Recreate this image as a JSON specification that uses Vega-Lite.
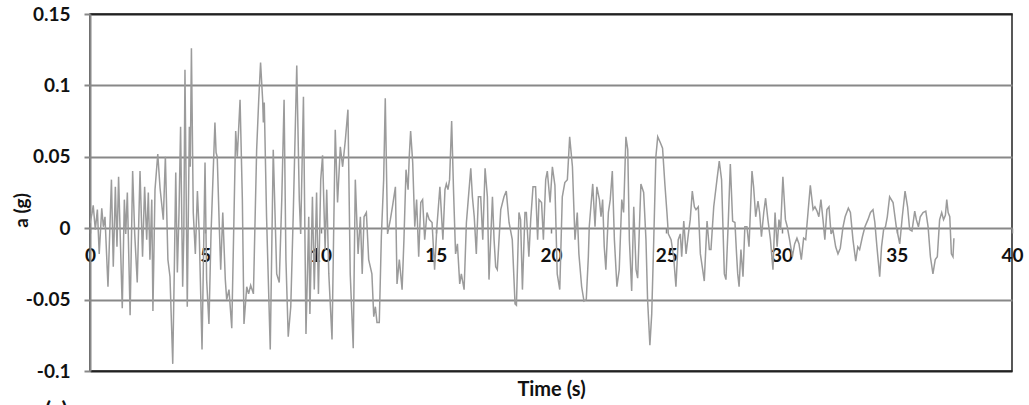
{
  "$schema": "https://vega.github.io/schema/vega-lite/v6.json",
  "width": 922,
  "height": 357,
  "autosize": {"type": "none"},
  "padding": {"left": 90, "top": 14, "right": 17, "bottom": 34},
  "background": "white",
  "config": {"view": {"stroke": "#222", "strokeWidth": 1.5}, "font": "Lato"},
  "title": {"text": "(a)", "orient": "bottom", "anchor": "start", "frame": "group", "fontSize": 22, "font": "Lato", "fontWeight": "bold", "color": "#111", "dx": -45, "offset": 2},
  "data": {"values": [
    {"t":0,"a":0.0035},{"t":0.09,"a":0.0105},{"t":0.14,"a":0.016},{"t":0.23,"a":-0.001},{"t":0.32,"a":0.013},{"t":0.40,"a":-0.018},{"t":0.51,"a":0.014},{"t":0.58,"a":0.001},{"t":0.65,"a":0.008},{"t":0.78,"a":-0.041},{"t":0.93,"a":0.034},{"t":1.01,"a":-0.027},{"t":1.10,"a":0.029},{"t":1.17,"a":-0.013},{"t":1.24,"a":0.036},{"t":1.40,"a":-0.056},{"t":1.49,"a":0.02},{"t":1.55,"a":-0.004},{"t":1.62,"a":0.025},{"t":1.74,"a":-0.061},{"t":1.85,"a":0.040},{"t":1.94,"a":-0.004},{"t":2.05,"a":-0.038},{"t":2.17,"a":0.040},{"t":2.28,"a":-0.02},{"t":2.37,"a":0.029},{"t":2.46,"a":-0.008},{"t":2.53,"a":0.025},{"t":2.60,"a":-0.022},{"t":2.68,"a":0.02},{"t":2.73,"a":-0.058},{"t":2.82,"a":0.027},{"t":2.94,"a":0.052},{"t":3.04,"a":0.028},{"t":3.18,"a":0.006},{"t":3.27,"a":0.050},{"t":3.38,"a":-0.022},{"t":3.47,"a":-0.034},{"t":3.59,"a":-0.095},{"t":3.66,"a":-0.027},{"t":3.72,"a":0.039},{"t":3.79,"a":-0.031},{"t":3.86,"a":0.01},{"t":3.93,"a":0.071},{"t":4.02,"a":-0.041},{"t":4.07,"a":-0.004},{"t":4.12,"a":0.111},{"t":4.22,"a":-0.055},{"t":4.31,"a":0.071},{"t":4.35,"a":0.043},{"t":4.40,"a":0.126},{"t":4.48,"a":0.011},{"t":4.57,"a":-0.018},{"t":4.66,"a":0.026},{"t":4.74,"a":-0.004},{"t":4.86,"a":-0.085},{"t":4.99,"a":0.046},{"t":5.06,"a":-0.036},{"t":5.16,"a":-0.067},{"t":5.25,"a":-0.004},{"t":5.42,"a":0.074},{"t":5.47,"a":0.053},{"t":5.52,"a":0.050},{"t":5.61,"a":0.001},{"t":5.67,"a":-0.029},{"t":5.76,"a":0.011},{"t":5.87,"a":-0.036},{"t":5.93,"a":-0.050},{"t":6.03,"a":-0.043},{"t":6.15,"a":-0.070},{"t":6.25,"a":0.011},{"t":6.32,"a":0.068},{"t":6.39,"a":0.050},{"t":6.51,"a":0.090},{"t":6.61,"a":0.020},{"t":6.68,"a":-0.067},{"t":6.80,"a":-0.041},{"t":6.88,"a":-0.046},{"t":6.97,"a":-0.040},{"t":7.09,"a":-0.046},{"t":7.23,"a":0.055},{"t":7.32,"a":0.090},{"t":7.40,"a":0.116},{"t":7.49,"a":0.090},{"t":7.52,"a":0.074},{"t":7.56,"a":0.088},{"t":7.66,"a":0.008},{"t":7.82,"a":-0.085},{"t":7.95,"a":0.055},{"t":8.10,"a":-0.032},{"t":8.21,"a":-0.038},{"t":8.32,"a":0.02},{"t":8.42,"a":0.090},{"t":8.50,"a":-0.022},{"t":8.60,"a":-0.076},{"t":8.71,"a":-0.055},{"t":8.82,"a":0.011},{"t":8.97,"a":0.114},{"t":9.08,"a":0.02},{"t":9.14,"a":-0.004},{"t":9.26,"a":0.092},{"t":9.37,"a":-0.074},{"t":9.49,"a":0.008},{"t":9.54,"a":-0.06},{"t":9.65,"a":0.022},{"t":9.73,"a":-0.043},{"t":9.83,"a":0.025},{"t":9.91,"a":-0.046},{"t":10.01,"a":0.034},{"t":10.09,"a":0.051},{"t":10.20,"a":-0.015},{"t":10.27,"a":0.027},{"t":10.36,"a":-0.032},{"t":10.50,"a":-0.078},{"t":10.64,"a":0.069},{"t":10.74,"a":0.018},{"t":10.86,"a":0.057},{"t":10.96,"a":0.043},{"t":11.08,"a":0.062},{"t":11.19,"a":0.083},{"t":11.29,"a":-0.032},{"t":11.42,"a":-0.084},{"t":11.51,"a":0.034},{"t":11.63,"a":-0.018},{"t":11.73,"a":0.008},{"t":11.81,"a":-0.032},{"t":11.89,"a":0.008},{"t":11.99,"a":0.011},{"t":12.09,"a":-0.022},{"t":12.23,"a":-0.032},{"t":12.31,"a":-0.062},{"t":12.38,"a":-0.055},{"t":12.45,"a":-0.066},{"t":12.55,"a":-0.066},{"t":12.64,"a":-0.006},{"t":12.74,"a":0.034},{"t":12.81,"a":0.091},{"t":12.91,"a":-0.004},{"t":13.03,"a":0.006},{"t":13.12,"a":0.015},{"t":13.25,"a":0.029},{"t":13.32,"a":-0.039},{"t":13.42,"a":-0.022},{"t":13.54,"a":-0.043},{"t":13.62,"a":-0.008},{"t":13.71,"a":0.041},{"t":13.80,"a":0.027},{"t":13.85,"a":0.050},{"t":13.91,"a":0.068},{"t":14.00,"a":0.046},{"t":14.09,"a":0.001},{"t":14.17,"a":0.020},{"t":14.26,"a":-0.020},{"t":14.35,"a":0.018},{"t":14.43,"a":0.020},{"t":14.52,"a":-0.008},{"t":14.62,"a":0.011},{"t":14.72,"a":0.006},{"t":14.84,"a":0.004},{"t":14.95,"a":-0.029},{"t":15.05,"a":0.001},{"t":15.18,"a":0.029},{"t":15.31,"a":-0.008},{"t":15.40,"a":0.027},{"t":15.46,"a":0.031},{"t":15.53,"a":0.027},{"t":15.60,"a":0.034},{"t":15.69,"a":0.075},{"t":15.77,"a":0.027},{"t":15.86,"a":-0.018},{"t":15.94,"a":-0.011},{"t":16.04,"a":-0.039},{"t":16.11,"a":-0.032},{"t":16.23,"a":-0.043},{"t":16.33,"a":0.004},{"t":16.41,"a":0.020},{"t":16.52,"a":0.042},{"t":16.59,"a":0.022},{"t":16.67,"a":0.008},{"t":16.76,"a":-0.018},{"t":16.85,"a":0.022},{"t":16.95,"a":0.022},{"t":17.04,"a":-0.008},{"t":17.14,"a":0.042},{"t":17.24,"a":0.022},{"t":17.31,"a":-0.036},{"t":17.46,"a":0.022},{"t":17.53,"a":-0.008},{"t":17.60,"a":-0.027},{"t":17.67,"a":-0.029},{"t":17.82,"a":0.013},{"t":17.96,"a":0.022},{"t":18.06,"a":0.026},{"t":18.18,"a":0.004},{"t":18.32,"a":-0.008},{"t":18.44,"a":-0.053},{"t":18.50,"a":-0.054},{"t":18.61,"a":0.011},{"t":18.68,"a":0.006},{"t":18.76,"a":-0.043},{"t":18.87,"a":0.011},{"t":18.93,"a":0.011},{"t":19.04,"a":-0.020},{"t":19.12,"a":0.006},{"t":19.22,"a":0.029},{"t":19.33,"a":0.029},{"t":19.42,"a":-0.008},{"t":19.48,"a":0.020},{"t":19.59,"a":0.018},{"t":19.67,"a":-0.008},{"t":19.77,"a":0.034},{"t":19.84,"a":0.040},{"t":19.96,"a":0.018},{"t":20.06,"a":0.043},{"t":20.17,"a":0.030},{"t":20.27,"a":-0.032},{"t":20.38,"a":-0.043},{"t":20.49,"a":0.022},{"t":20.60,"a":0.032},{"t":20.71,"a":0.034},{"t":20.81,"a":0.064},{"t":20.93,"a":0.043},{"t":21.04,"a":-0.008},{"t":21.14,"a":0.011},{"t":21.21,"a":-0.018},{"t":21.33,"a":-0.041},{"t":21.43,"a":-0.051},{"t":21.53,"a":-0.050},{"t":21.62,"a":-0.020},{"t":21.66,"a":0.001},{"t":21.81,"a":0.031},{"t":21.91,"a":0.001},{"t":21.99,"a":0.029},{"t":22.10,"a":0.020},{"t":22.17,"a":0.008},{"t":22.24,"a":0.020},{"t":22.31,"a":-0.013},{"t":22.38,"a":-0.029},{"t":22.49,"a":0.011},{"t":22.57,"a":0.020},{"t":22.66,"a":0.040},{"t":22.75,"a":-0.008},{"t":22.86,"a":-0.041},{"t":22.96,"a":-0.029},{"t":23.07,"a":0.020},{"t":23.15,"a":0.011},{"t":23.25,"a":0.064},{"t":23.33,"a":0.055},{"t":23.40,"a":-0.008},{"t":23.50,"a":-0.044},{"t":23.59,"a":0.015},{"t":23.69,"a":-0.029},{"t":23.76,"a":-0.035},{"t":23.90,"a":0.031},{"t":24.02,"a":0.025},{"t":24.12,"a":-0.008},{"t":24.19,"a":-0.050},{"t":24.29,"a":-0.082},{"t":24.37,"a":-0.060},{"t":24.45,"a":-0.013},{"t":24.55,"a":0.050},{"t":24.63,"a":0.064},{"t":24.74,"a":0.060},{"t":24.84,"a":0.056},{"t":24.94,"a":0.031},{"t":25.03,"a":0.011},{"t":25.09,"a":-0.004},{"t":25.21,"a":-0.008},{"t":25.32,"a":-0.020},{"t":25.42,"a":-0.041},{"t":25.52,"a":-0.008},{"t":25.61,"a":-0.004},{"t":25.67,"a":-0.020},{"t":25.76,"a":0.005},{"t":25.86,"a":-0.018},{"t":25.96,"a":-0.004},{"t":26.04,"a":0.006},{"t":26.13,"a":0.026},{"t":26.22,"a":0.015},{"t":26.29,"a":0.013},{"t":26.39,"a":0.015},{"t":26.48,"a":-0.018},{"t":26.58,"a":-0.029},{"t":26.65,"a":-0.037},{"t":26.77,"a":0.005},{"t":26.87,"a":-0.015},{"t":26.94,"a":-0.015},{"t":27.06,"a":0.015},{"t":27.20,"a":0.034},{"t":27.30,"a":0.047},{"t":27.40,"a":0.034},{"t":27.52,"a":-0.032},{"t":27.59,"a":-0.036},{"t":27.69,"a":0.004},{"t":27.78,"a":0.045},{"t":27.88,"a":0.005},{"t":27.98,"a":0.004},{"t":28.05,"a":-0.018},{"t":28.10,"a":-0.032},{"t":28.16,"a":-0.041},{"t":28.24,"a":-0.015},{"t":28.33,"a":-0.034},{"t":28.41,"a":0.001},{"t":28.50,"a":0.001},{"t":28.59,"a":-0.013},{"t":28.72,"a":0.040},{"t":28.79,"a":0.029},{"t":28.88,"a":0.008},{"t":28.98,"a":0.019},{"t":29.05,"a":0.011},{"t":29.13,"a":-0.006},{"t":29.23,"a":0.011},{"t":29.31,"a":0.021},{"t":29.41,"a":0.006},{"t":29.52,"a":-0.008},{"t":29.63,"a":-0.029},{"t":29.72,"a":0.011},{"t":29.81,"a":-0.013},{"t":29.89,"a":0.006},{"t":29.96,"a":-0.001},{"t":30.06,"a":0.036},{"t":30.17,"a":0.006},{"t":30.25,"a":0.001},{"t":30.35,"a":-0.008},{"t":30.47,"a":-0.020},{"t":30.57,"a":-0.011},{"t":30.67,"a":-0.007},{"t":30.76,"a":-0.011},{"t":30.86,"a":-0.022},{"t":30.96,"a":-0.007},{"t":31.05,"a":-0.008},{"t":31.15,"a":0.011},{"t":31.25,"a":0.030},{"t":31.37,"a":0.013},{"t":31.45,"a":0.015},{"t":31.54,"a":0.012},{"t":31.62,"a":0.008},{"t":31.71,"a":0.020},{"t":31.80,"a":0.006},{"t":31.88,"a":-0.008},{"t":31.97,"a":0.013},{"t":32.06,"a":0.015},{"t":32.15,"a":-0.004},{"t":32.23,"a":-0.001},{"t":32.35,"a":-0.013},{"t":32.45,"a":-0.018},{"t":32.55,"a":-0.014},{"t":32.67,"a":0.001},{"t":32.76,"a":0.008},{"t":32.90,"a":0.014},{"t":32.99,"a":0.011},{"t":33.10,"a":-0.008},{"t":33.22,"a":-0.023},{"t":33.31,"a":-0.013},{"t":33.39,"a":-0.015},{"t":33.51,"a":-0.006},{"t":33.62,"a":0.001},{"t":33.75,"a":0.006},{"t":33.86,"a":0.011},{"t":33.97,"a":0.013},{"t":34.05,"a":0.004},{"t":34.14,"a":-0.013},{"t":34.26,"a":-0.034},{"t":34.34,"a":-0.013},{"t":34.43,"a":-0.001},{"t":34.51,"a":0.001},{"t":34.59,"a":0.008},{"t":34.69,"a":0.022},{"t":34.84,"a":0.018},{"t":34.98,"a":0.001},{"t":35.13,"a":-0.011},{"t":35.24,"a":0.008},{"t":35.36,"a":0.026},{"t":35.47,"a":0.015},{"t":35.56,"a":-0.001},{"t":35.66,"a":-0.002},{"t":35.78,"a":0.012},{"t":35.85,"a":0.006},{"t":35.94,"a":0.001},{"t":36.02,"a":0.008},{"t":36.14,"a":0.011},{"t":36.26,"a":0.012},{"t":36.36,"a":0.001},{"t":36.46,"a":-0.020},{"t":36.57,"a":-0.032},{"t":36.67,"a":-0.022},{"t":36.76,"a":-0.020},{"t":36.86,"a":0.006},{"t":36.95,"a":0.011},{"t":37.03,"a":0.006},{"t":37.11,"a":0.009},{"t":37.17,"a":0.020},{"t":37.23,"a":0.011},{"t":37.30,"a":0.008},{"t":37.37,"a":-0.018},{"t":37.44,"a":-0.020},{"t":37.48,"a":-0.007}
  ]},
  "mark": {"type": "line", "color": "#9b9b9b", "strokeWidth": 1.5, "clip": true},
  "encoding": {
    "x": {
      "field": "t", "type": "quantitative",
      "scale": {"domain": [0, 40], "nice": false, "zero": false},
      "axis": {
        "values": [0, 5, 10, 15, 20, 25, 30, 35, 40],
        "offset": -143, "domain": false, "grid": false,
        "ticks": true, "tickColor": "#888", "tickSize": 5, "tickWidth": 1.5,
        "labelFont": "Lato", "labelFontSize": 19, "labelFontWeight": "bold", "labelColor": "#111",
        "labelPadding": 13, "labelFlush": false, "labelOverlap": false,
        "title": "Time (s)", "titleFont": "Lato", "titleFontSize": 20, "titleFontWeight": "bold", "titleColor": "#111",
        "titleY": 161, "titleBaseline": "middle"
      }
    },
    "y": {
      "field": "a", "type": "quantitative",
      "scale": {"domain": [-0.1, 0.15], "nice": false, "zero": false},
      "axis": {
        "values": [-0.1, -0.05, 0, 0.05, 0.1, 0.15],
        "labelExpr": "datum.value < 0 ? '-' + format(-datum.value, '~g') : format(datum.value, '~g')",
        "domain": true, "domainColor": "#888", "domainWidth": 2,
        "ticks": true, "tickColor": "#888", "tickSize": 6, "tickWidth": 2,
        "grid": true,
        "gridColor": {"condition": {"test": "datum.value > 0.14 || datum.value < -0.09", "value": "#222"}, "value": "#888"},
        "gridWidth": 2,
        "labelFont": "Lato", "labelFontSize": 19, "labelFontWeight": "bold", "labelColor": "#111",
        "labelPadding": 14,
        "title": "a (g)", "titleFont": "Lato", "titleFontSize": 19, "titleFontWeight": "bold", "titleColor": "#111",
        "titleX": -69, "titleY": 196, "titleBaseline": "middle"
      }
    }
  }
}
